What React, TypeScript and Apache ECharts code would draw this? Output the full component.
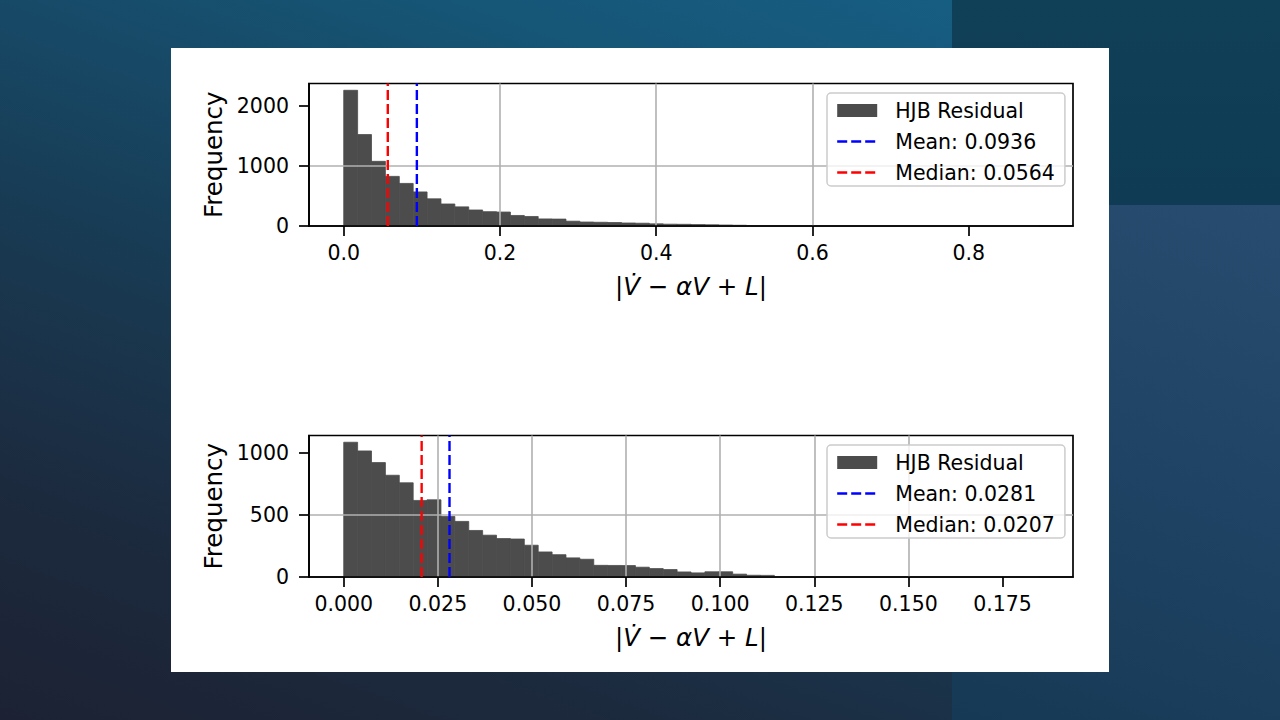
import React, { useEffect, useRef } from "react";
import * as echarts from "echarts";

// ---------- data ----------
const BIN_COUNT = 50;

const topResidualMax = 0.889;
const topCounts = [
  2256, 1520, 1075, 825, 708, 566, 452, 366, 318, 266,
  238, 232, 175, 158, 118, 115, 80, 66, 62, 58,
  50, 46, 36, 30, 28, 24, 20, 16, 12, 6,
  5, 4, 3, 2, 2, 1, 1, 1, 0, 1,
  0, 0, 1, 0, 0, 0, 0, 0, 0, 1,
];
const topMean = 0.0936;
const topMedian = 0.0564;
const topXTicks = [0, 0.2, 0.4, 0.6, 0.8];
const topYTicks = [0, 1000, 2000];

const bottomResidualMax = 0.1845;
const bottomCounts = [
  1086, 1016, 922, 820, 759, 617, 622, 488, 448, 375,
  337, 310, 306, 256, 202, 180, 154, 143, 94, 93,
  92, 79, 68, 60, 41, 33, 42, 42, 23, 14,
  13, 4, 3, 2, 2, 1, 1, 1, 0, 1,
  0, 0, 0, 1, 0, 0, 0, 0, 0, 1,
];
const bottomMean = 0.0281;
const bottomMedian = 0.0207;
const bottomXTicks = [0, 0.025, 0.05, 0.075, 0.1, 0.125, 0.15, 0.175];
const bottomYTicks = [0, 500, 1000];

const seriesName = "HJB Residual";
const yName = "Frequency";
const xName = "|{i|V\u0307} \u2212 {i|\u03B1V} + {i|L}|";

// ---------- styles ----------
const FONT = "'DejaVu Sans', sans-serif";
const BAR = "#4c4c4c";
const GRIDLINE = "#b0b0b0";

interface PanelCfg {
  idx: number;
  counts: number[];
  residualMax: number;
  mean: number;
  median: number;
  xTicks: number[];
  yTicks: number[];
  xStep: number;
  yStep: number;
  xDec: number;
  top: number;
  height: number;
  legendTop: number;
}

function isTick(list: number[], v: number) {
  return list.some((t) => Math.abs(t - v) < 1e-9);
}

function buildPanel(c: PanelCfg) {
  const w = c.residualMax / BIN_COUNT;
  const yMax = Math.max(...c.counts) * 1.05;
  const pad = c.residualMax * 0.05;
  const meanName = `Mean: ${c.mean.toFixed(4)}`;
  const medianName = `Median: ${c.median.toFixed(4)}`;
  const axisLineStyle = { color: "#000", width: 1.7 };

  const grid = {
    left: 309,
    top: c.top,
    width: 764,
    height: c.height,
    show: true,
    borderColor: "#000",
    borderWidth: 1.7,
    backgroundColor: "transparent",
  };

  const xAxis = {
    gridIndex: c.idx,
    type: "value",
    min: -pad,
    max: c.residualMax + pad,
    minInterval: c.xStep,
    maxInterval: c.xStep,
    z: 3,
    axisLine: { show: true, onZero: false, lineStyle: axisLineStyle },
    axisTick: { show: true, length: 10, customValues: c.xTicks, lineStyle: axisLineStyle },
    axisLabel: {
      customValues: c.xTicks,
      margin: 16,
      color: "#000",
      fontSize: 20.5,
      fontFamily: FONT,
      formatter: (v: number) => (isTick(c.xTicks, v) ? v.toFixed(c.xDec) : ""),
    },
    splitLine: {
      show: true,
      showMinLine: false,
      showMaxLine: false,
      lineStyle: { color: GRIDLINE, width: 1.6 },
    },
    name: xName,
    nameLocation: "middle",
    nameGap: 48,
    nameTextStyle: {
      fontSize: 24.5,
      fontFamily: FONT,
      color: "#000",
      rich: { i: { fontStyle: "italic", fontSize: 24.5, fontFamily: FONT, color: "#000" } },
    },
  };

  const yAxis = {
    gridIndex: c.idx,
    type: "value",
    min: 0,
    max: yMax,
    interval: c.yStep,
    z: 3,
    axisLine: { show: true, onZero: false, lineStyle: axisLineStyle },
    axisTick: { show: true, length: 10, customValues: c.yTicks, lineStyle: axisLineStyle },
    axisLabel: {
      customValues: c.yTicks,
      margin: 20,
      color: "#000",
      fontSize: 20.5,
      fontFamily: FONT,
      formatter: (v: number) => (isTick(c.yTicks, v) ? String(Math.round(v)) : ""),
    },
    splitLine: {
      show: true,
      showMinLine: false,
      showMaxLine: false,
      lineStyle: { color: GRIDLINE, width: 1.6 },
    },
    name: yName,
    nameLocation: "middle",
    nameGap: 77,
    nameTextStyle: { fontSize: 24.5, fontFamily: FONT, color: "#000" },
  };

  const bars = {
    type: "custom",
    name: seriesName,
    xAxisIndex: c.idx,
    yAxisIndex: c.idx,
    z: 2,
    silent: true,
    itemStyle: { color: BAR },
    encode: { x: [0, 1], y: 2 },
    data: c.counts.map((n, i) => [i * w, (i + 1) * w, n]),
    renderItem: (_p: any, api: any) => {
      const a = api.coord([api.value(0), api.value(2)]);
      const b = api.coord([api.value(1), 0]);
      return {
        type: "rect",
        shape: { x: a[0], y: a[1], width: b[0] - a[0], height: b[1] - a[1] },
        style: { fill: BAR, stroke: BAR, lineWidth: 0.8 },
      };
    },
  };

  const vline = (name: string, x: number, color: string) => ({
    type: "line",
    name,
    xAxisIndex: c.idx,
    yAxisIndex: c.idx,
    z: 3,
    silent: true,
    symbol: "none",
    data: [
      [x, 0],
      [x, yMax],
    ],
    lineStyle: { color, width: 2.4, type: [10, 4] },
    itemStyle: { color },
  });

  const legend = {
    orient: "vertical",
    left: 827,
    top: c.legendTop,
    padding: [7, 10, 3, 9],
    itemGap: 10,
    itemWidth: 40,
    itemHeight: 13,
    selectedMode: false,
    backgroundColor: "rgba(255,255,255,0.8)",
    borderColor: "#cccccc",
    borderWidth: 1.5,
    borderRadius: 4,
    textStyle: { fontSize: 20.5, fontFamily: FONT, color: "#000", padding: [0, 0, 0, 13] },
    data: [
      { name: seriesName, icon: "rect" },
      { name: meanName, itemStyle: { opacity: 0 }, lineStyle: { type: [10, 4], width: 2.4 } },
      { name: medianName, itemStyle: { opacity: 0 }, lineStyle: { type: [10, 4], width: 2.4 } },
    ],
  };

  return {
    grid,
    xAxis,
    yAxis,
    series: [bars, vline(meanName, c.mean, "#0000ff"), vline(medianName, c.median, "#ff0000")],
    legend,
  };
}

export default function App() {
  const ref = useRef<HTMLDivElement>(null);

  useEffect(() => {
    if (!ref.current) return;
    const chart = echarts.init(ref.current, undefined, { renderer: "svg" });
    const p1 = buildPanel({
      idx: 0,
      counts: topCounts,
      residualMax: topResidualMax,
      mean: topMean,
      median: topMedian,
      xTicks: topXTicks,
      yTicks: topYTicks,
      xStep: 0.2,
      yStep: 1000,
      xDec: 1,
      top: 83.5,
      height: 142.5,
      legendTop: 93,
    });
    const p2 = buildPanel({
      idx: 1,
      counts: bottomCounts,
      residualMax: bottomResidualMax,
      mean: bottomMean,
      median: bottomMedian,
      xTicks: bottomXTicks,
      yTicks: bottomYTicks,
      xStep: 0.025,
      yStep: 500,
      xDec: 3,
      top: 435.5,
      height: 141.5,
      legendTop: 445,
    });
    chart.setOption({
      animation: false,
      backgroundColor: "transparent",
      textStyle: { fontFamily: FONT },
      grid: [p1.grid, p2.grid],
      xAxis: [p1.xAxis, p2.xAxis],
      yAxis: [p1.yAxis, p2.yAxis],
      legend: [p1.legend, p2.legend],
      series: [...p1.series, ...p2.series],
    } as any);
    return () => chart.dispose();
  }, []);

  return (
    <div
      style={{
        position: "fixed",
        left: 0,
        top: 0,
        width: 1280,
        height: 720,
        overflow: "hidden",
        background:
          "linear-gradient(200deg, #17628a 0%, #165677 25%, #183c55 55%, #1c2a3e 80%, #1c2233 100%)",
      }}
    >
      <div
        style={{
          position: "absolute",
          left: 952,
          top: 0,
          width: 328,
          height: 205,
          background: "linear-gradient(180deg, #103f58 0%, #0f3c54 100%)",
        }}
      />
      <div
        style={{
          position: "absolute",
          left: 952,
          top: 205,
          width: 328,
          height: 515,
          background: "linear-gradient(200deg, #284c6f 0%, #1f4364 50%, #163a55 100%)",
        }}
      />
      <div
        style={{
          position: "absolute",
          left: 171,
          top: 48,
          width: 938,
          height: 624,
          background: "#ffffff",
        }}
      />
      <div ref={ref} style={{ position: "absolute", left: 0, top: 0, width: 1280, height: 720 }} />
    </div>
  );
}
